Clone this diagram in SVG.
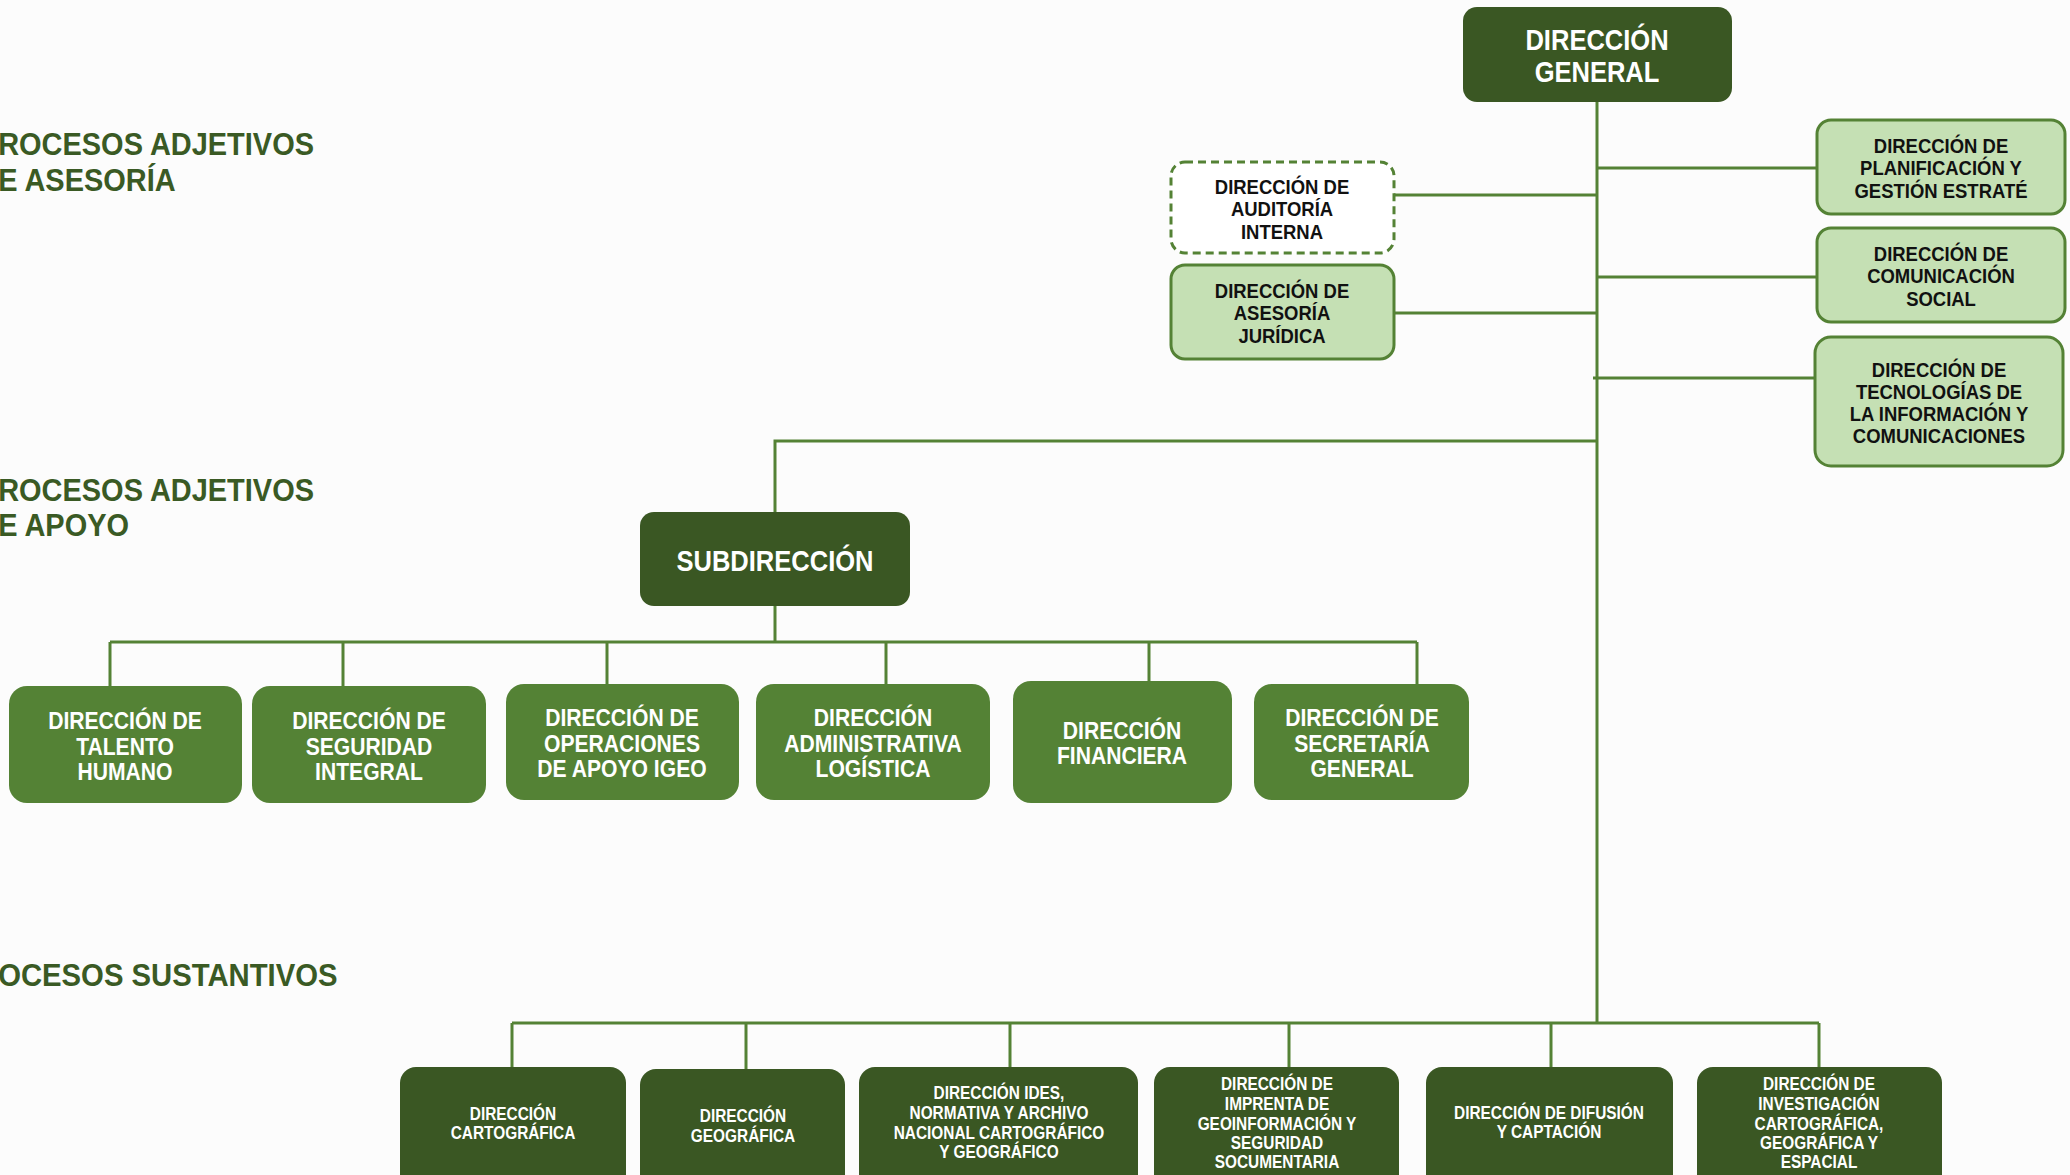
<svg xmlns="http://www.w3.org/2000/svg" width="2070" height="1175" viewBox="0 0 2070 1175">
<style>
text{font-family:"Liberation Sans",Arial,sans-serif;font-weight:bold;}
.lbl{fill:#3a5a24;font-size:32px;}
.wt{fill:#ffffff;text-anchor:middle;}
.bk{fill:#111111;text-anchor:middle;font-size:21px;}
.f29{font-size:29px;}
.f24{font-size:24px;}
.f17{font-size:17.5px;}
.dark{fill:#3a5723;}
.mid{fill:#548235;}
.light{fill:#c5e0b4;stroke:#548235;stroke-width:3;}
.dash{fill:#ffffff;stroke:#548235;stroke-width:3;stroke-dasharray:8 5;}
.con{fill:none;stroke:#548235;stroke-width:3;}
</style>
<rect x="0" y="0" width="2070" height="1175" fill="#fcfcfc"/>

<g id="labels">
<text class="lbl" transform="scale(0.905 1)" x="-2"><tspan x="-2" y="155">ROCESOS ADJETIVOS</tspan><tspan x="-2" y="191">E ASESORÍA</tspan></text>
<text class="lbl" transform="scale(0.905 1)" x="-2"><tspan x="-2" y="501">ROCESOS ADJETIVOS</tspan><tspan x="-2" y="536">E APOYO</tspan></text>
<text class="lbl" transform="scale(0.915 1)" x="-2" y="986">OCESOS SUSTANTIVOS</text>
</g>

<g id="connectors">
<path class="con" d="M1597 102 V1023"/>
<path class="con" d="M1394 195 H1597 M1394 313 H1597"/>
<path class="con" d="M1597 168 H1817 M1597 277 H1817 M1593 378 H1815"/>
<path class="con" d="M1597 441 H775 V512"/>
<path class="con" d="M775 606 V642 M110 642 H1417 M110 642 V686 M343 642 V686 M607 642 V684 M886 642 V684 M1149 642 V681 M1417 642 V684"/>
<path class="con" d="M512 1023 H1819 M512 1023 V1067 M746 1023 V1069 M1010 1023 V1067 M1289 1023 V1067 M1551 1023 V1067 M1819 1023 V1067"/>
</g>

<g id="direccion-general">
<rect class="dark" x="1463" y="7" width="269" height="95" rx="14"/>
<text class="wt f29" transform="translate(1597 0) scale(0.88 1)"><tspan x="0" y="50">DIRECCIÓN</tspan><tspan x="0" y="82">GENERAL</tspan></text>
</g>

<g id="auditoria">
<rect class="dash" x="1171" y="162" width="223" height="91" rx="14"/>
<text class="bk" transform="translate(1282 0) scale(0.88 1)"><tspan x="0" y="194">DIRECCIÓN DE</tspan><tspan x="0" y="216">AUDITORÍA</tspan><tspan x="0" y="239">INTERNA</tspan></text>
</g>

<g id="asesoria">
<rect class="light" x="1171" y="265" width="223" height="94" rx="14"/>
<text class="bk" transform="translate(1282 0) scale(0.88 1)"><tspan x="0" y="298">DIRECCIÓN DE</tspan><tspan x="0" y="320">ASESORÍA</tspan><tspan x="0" y="343">JURÍDICA</tspan></text>
</g>

<g id="planificacion">
<rect class="light" x="1817" y="120" width="248" height="94" rx="14"/>
<text class="bk" transform="translate(1941 0) scale(0.88 1)"><tspan x="0" y="153">DIRECCIÓN DE</tspan><tspan x="0" y="175">PLANIFICACIÓN Y</tspan><tspan x="0" y="198">GESTIÓN ESTRATÉ</tspan></text>
</g>

<g id="comunicacion">
<rect class="light" x="1817" y="228" width="248" height="94" rx="14"/>
<text class="bk" transform="translate(1941 0) scale(0.88 1)"><tspan x="0" y="261">DIRECCIÓN DE</tspan><tspan x="0" y="283">COMUNICACIÓN</tspan><tspan x="0" y="306">SOCIAL</tspan></text>
</g>

<g id="tecnologias">
<rect class="light" x="1815" y="337" width="248" height="129" rx="16"/>
<text class="bk" transform="translate(1939 0) scale(0.88 1)"><tspan x="0" y="377">DIRECCIÓN DE</tspan><tspan x="0" y="399">TECNOLOGÍAS DE</tspan><tspan x="0" y="421">LA INFORMACIÓN Y</tspan><tspan x="0" y="443">COMUNICACIONES</tspan></text>
</g>

<g id="subdireccion">
<rect class="dark" x="640" y="512" width="270" height="94" rx="14"/>
<text class="wt f29" transform="translate(775 0) scale(0.88 1)" x="0" y="571">SUBDIRECCIÓN</text>
</g>

<g id="talento">
<rect class="mid" x="9" y="686" width="233" height="117" rx="18"/>
<text class="wt f24" transform="translate(125 0) scale(0.88 1)"><tspan x="0" y="729">DIRECCIÓN DE</tspan><tspan x="0" y="755">TALENTO</tspan><tspan x="0" y="780">HUMANO</tspan></text>
</g>

<g id="seguridad">
<rect class="mid" x="252" y="686" width="234" height="117" rx="18"/>
<text class="wt f24" transform="translate(369 0) scale(0.88 1)"><tspan x="0" y="729">DIRECCIÓN DE</tspan><tspan x="0" y="755">SEGURIDAD</tspan><tspan x="0" y="780">INTEGRAL</tspan></text>
</g>

<g id="operaciones">
<rect class="mid" x="506" y="684" width="233" height="116" rx="18"/>
<text class="wt f24" transform="translate(622 0) scale(0.88 1)"><tspan x="0" y="726">DIRECCIÓN DE</tspan><tspan x="0" y="752">OPERACIONES</tspan><tspan x="0" y="777">DE APOYO IGEO</tspan></text>
</g>

<g id="administrativa">
<rect class="mid" x="756" y="684" width="234" height="116" rx="18"/>
<text class="wt f24" transform="translate(873 0) scale(0.88 1)"><tspan x="0" y="726">DIRECCIÓN</tspan><tspan x="0" y="752">ADMINISTRATIVA</tspan><tspan x="0" y="777">LOGÍSTICA</tspan></text>
</g>

<g id="financiera">
<rect class="mid" x="1013" y="681" width="219" height="122" rx="18"/>
<text class="wt f24" transform="translate(1122 0) scale(0.88 1)"><tspan x="0" y="739">DIRECCIÓN</tspan><tspan x="0" y="764">FINANCIERA</tspan></text>
</g>

<g id="secretaria">
<rect class="mid" x="1254" y="684" width="215" height="116" rx="18"/>
<text class="wt f24" transform="translate(1362 0) scale(0.88 1)"><tspan x="0" y="726">DIRECCIÓN DE</tspan><tspan x="0" y="752">SECRETARÍA</tspan><tspan x="0" y="777">GENERAL</tspan></text>
</g>

<g id="cartografica">
<rect class="dark" x="400" y="1067" width="226" height="140" rx="16"/>
<text class="wt f17" transform="translate(513 0) scale(0.88 1)"><tspan x="0" y="1120">DIRECCIÓN</tspan><tspan x="0" y="1139">CARTOGRÁFICA</tspan></text>
</g>

<g id="geografica">
<rect class="dark" x="640" y="1069" width="205" height="140" rx="16"/>
<text class="wt f17" transform="translate(743 0) scale(0.88 1)"><tspan x="0" y="1122">DIRECCIÓN</tspan><tspan x="0" y="1142">GEOGRÁFICA</tspan></text>
</g>

<g id="ides">
<rect class="dark" x="859" y="1067" width="279" height="140" rx="16"/>
<text class="wt f17" transform="translate(999 0) scale(0.88 1)"><tspan x="0" y="1099">DIRECCIÓN IDES,</tspan><tspan x="0" y="1119">NORMATIVA Y ARCHIVO</tspan><tspan x="0" y="1139">NACIONAL CARTOGRÁFICO</tspan><tspan x="0" y="1158">Y GEOGRÁFICO</tspan></text>
</g>

<g id="imprenta">
<rect class="dark" x="1154" y="1067" width="245" height="140" rx="16"/>
<text class="wt f17" transform="translate(1277 0) scale(0.88 1)"><tspan x="0" y="1090">DIRECCIÓN DE</tspan><tspan x="0" y="1110">IMPRENTA DE</tspan><tspan x="0" y="1130">GEOINFORMACIÓN Y</tspan><tspan x="0" y="1149">SEGURIDAD</tspan><tspan x="0" y="1168">SOCUMENTARIA</tspan></text>
</g>

<g id="difusion">
<rect class="dark" x="1426" y="1067" width="247" height="140" rx="16"/>
<text class="wt f17" transform="translate(1549 0) scale(0.88 1)"><tspan x="0" y="1119">DIRECCIÓN DE DIFUSIÓN</tspan><tspan x="0" y="1138">Y CAPTACIÓN</tspan></text>
</g>

<g id="investigacion">
<rect class="dark" x="1697" y="1067" width="245" height="140" rx="16"/>
<text class="wt f17" transform="translate(1819 0) scale(0.88 1)"><tspan x="0" y="1090">DIRECCIÓN DE</tspan><tspan x="0" y="1110">INVESTIGACIÓN</tspan><tspan x="0" y="1130">CARTOGRÁFICA,</tspan><tspan x="0" y="1149">GEOGRÁFICA Y</tspan><tspan x="0" y="1168">ESPACIAL</tspan></text>
</g>
</svg>
